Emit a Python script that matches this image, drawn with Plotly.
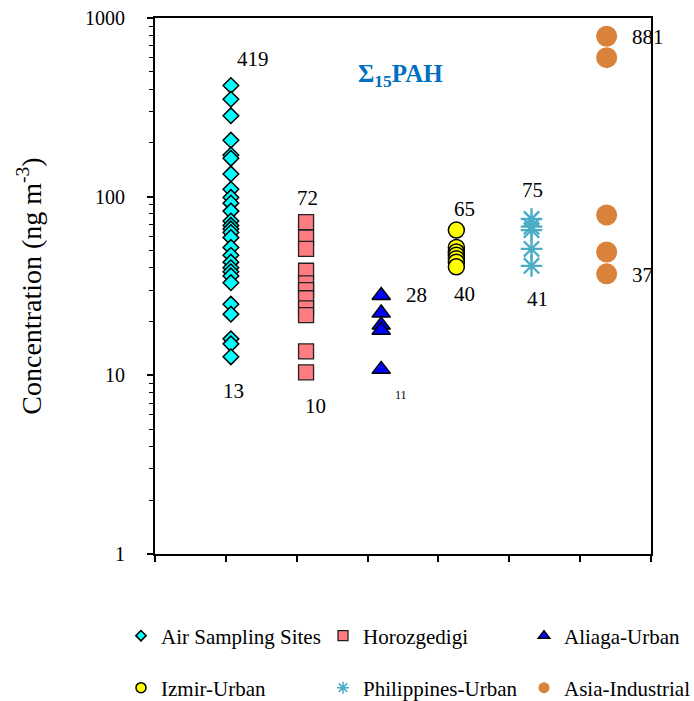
import math
import plotly.graph_objects as go

categories = ["Air Sampling Sites", "Horozgedigi", "Aliaga-Urban",
              "Izmir-Urban", "Philippines-Urban", "Asia-Industrial"]

air_sampling_sites = [419, 351, 284, 207, 171, 164, 134, 110, 99, 92, 83, 73, 69,
                      66, 63, 59, 52, 47, 43, 40, 38, 36, 33, 25, 22, 16, 15, 12.7]
horozgedigi = [72, 59, 51, 38.5, 32.7, 30, 27, 23.7, 21.7, 13.6, 10.4]
aliaga_urban = [28, 22.3, 19.1, 17.9, 10.8]
izmir_urban = [65, 52, 49, 47, 45, 43, 40.5]
philippines_urban = [75, 68, 65, 51, 41]
asia_industrial = [790, 600, 79, 49, 37]

max_labels = ["419", "72", "28", "65", "75", "881"]
min_labels = ["13", "10", "11", "40", "41", "37"]

y_ticks = [1, 10, 100, 1000]

series = [air_sampling_sites, horozgedigi, aliaga_urban,
          izmir_urban, philippines_urban, asia_industrial]

# styles
FONT = "Liberation Serif"
styles = [
    dict(symbol="diamond", size=12, color="#00FFFF", line=dict(color="black", width=1.5)),
    dict(symbol="square", size=15, color="#FF7C80", line=dict(color="#222222", width=1.3)),
    dict(symbol="triangle-up", size=16, color="#0000FF", line=dict(color="black", width=1.5)),
    dict(symbol="circle", size=16, color="#FFFF00", line=dict(color="black", width=1.5)),
    dict(symbol="asterisk-open", size=18, color="#4BACC6", line=dict(color="#4BACC6", width=2.4)),
    dict(symbol="circle", size=21, color="#D9823B", line=dict(color="#D9823B", width=0)),
]
legend_sizes = [8, 10, 10, 10, 10, 11]
# legend boxes in container (whole figure) coordinates
legend_pos = [(121 / 694, 1 - 636 / 701), (323 / 694, 1 - 636 / 701), (524 / 694, 1 - 636 / 701),
              (121 / 694, 1 - 688 / 701), (323 / 694, 1 - 688 / 701), (524 / 694, 1 - 688 / 701)]
max_shift = [(22, 27), (1, 24), (35, 0), (8, 21), (1, 29), (41, -1)]
min_shift = [(3, -34), (9, -34), (20, -26), (8, -27), (6, -33), (36, -1)]
min_font = [21, 21, 12, 21, 21, 21]

fig = go.Figure()
for i, (name, vals) in enumerate(zip(categories, series)):
    st = styles[i]
    fig.add_trace(go.Scatter(
        x=[i + 1] * len(vals), y=vals, mode="markers", name=name,
        showlegend=False,
        marker=dict(symbol=st["symbol"], size=st["size"], color=st["color"], line=st["line"]),
    ))
for i, name in enumerate(categories):
    st = styles[i]
    lg = "legend" if i == 0 else f"legend{i + 1}"
    fig.add_trace(go.Scatter(
        x=[None], y=[None], mode="markers", name=name, legend=lg, showlegend=True,
        marker=dict(symbol=st["symbol"], size=legend_sizes[i], color=st["color"],
                    line=dict(color=st["line"]["color"], width=min(st["line"]["width"], 1.5))),
    ))
    lx, ly = legend_pos[i]
    fig.update_layout(**{lg: dict(x=lx, y=ly, xref="container", yref="container",
                                  xanchor="left", yanchor="middle",
                                  orientation="h", bgcolor="rgba(0,0,0,0)",
                                  font=dict(family=FONT, size=21, color="black"))})

for i, vals in enumerate(series):
    fig.add_annotation(x=i + 1, y=math.log10(max(vals)), text=max_labels[i],
                       showarrow=False, xshift=max_shift[i][0], yshift=max_shift[i][1],
                       font=dict(family=FONT, size=21, color="black"))
    fig.add_annotation(x=i + 1, y=math.log10(min(vals)), text=min_labels[i],
                       showarrow=False, xshift=min_shift[i][0], yshift=min_shift[i][1],
                       font=dict(family=FONT, size=min_font[i], color="black"))

fig.add_annotation(xref="paper", yref="paper", x=0.494, y=0.926,
                   text="<b>Σ<sub>15</sub>PAH</b>", showarrow=False,
                   font=dict(family=FONT, size=25, color="#0070C0"))

x0, x1 = -0.01, 6.59
xticks = [x0 + k * (x1 - x0) / 7 for k in range(8)]

fig.update_layout(
    width=694, height=701,
    margin=dict(l=155, r=43, t=18, b=147, autoexpand=False),
    paper_bgcolor="white", plot_bgcolor="white",
    font=dict(family=FONT, color="black"),
    xaxis=dict(range=[x0, x1 + 1e-6], showgrid=False, zeroline=False, automargin=False,
               showline=True, linecolor="black", linewidth=2, mirror=True,
               tickmode="array", tickvals=xticks, showticklabels=False,
               ticks="outside", ticklen=6, tickwidth=1.5, tickcolor="black"),
    yaxis=dict(type="log", range=[0, 3], showgrid=False, zeroline=False, automargin=False,
               showline=True, linecolor="black", linewidth=2, mirror=True,
               tickmode="array", tickvals=y_ticks, ticktext=[str(v) for v in y_ticks],
               ticks="outside", ticklen=6, tickwidth=1.5, tickcolor="black",
               tickfont=dict(family=FONT, size=20, color="black"),
               ticklabelstandoff=18,
               minor=dict(ticks="outside", ticklen=4, tickwidth=1.2, tickcolor="black",
                          dtick="D1", showgrid=False),
               title=dict(text="Concentration (ng m<sup>-3</sup>)",
                          font=dict(family=FONT, size=28, color="black"), standoff=35)),
)

fig.write_html("out.html", config={"displayModeBar": False},
               post_script="document.body.style.margin='0';")
